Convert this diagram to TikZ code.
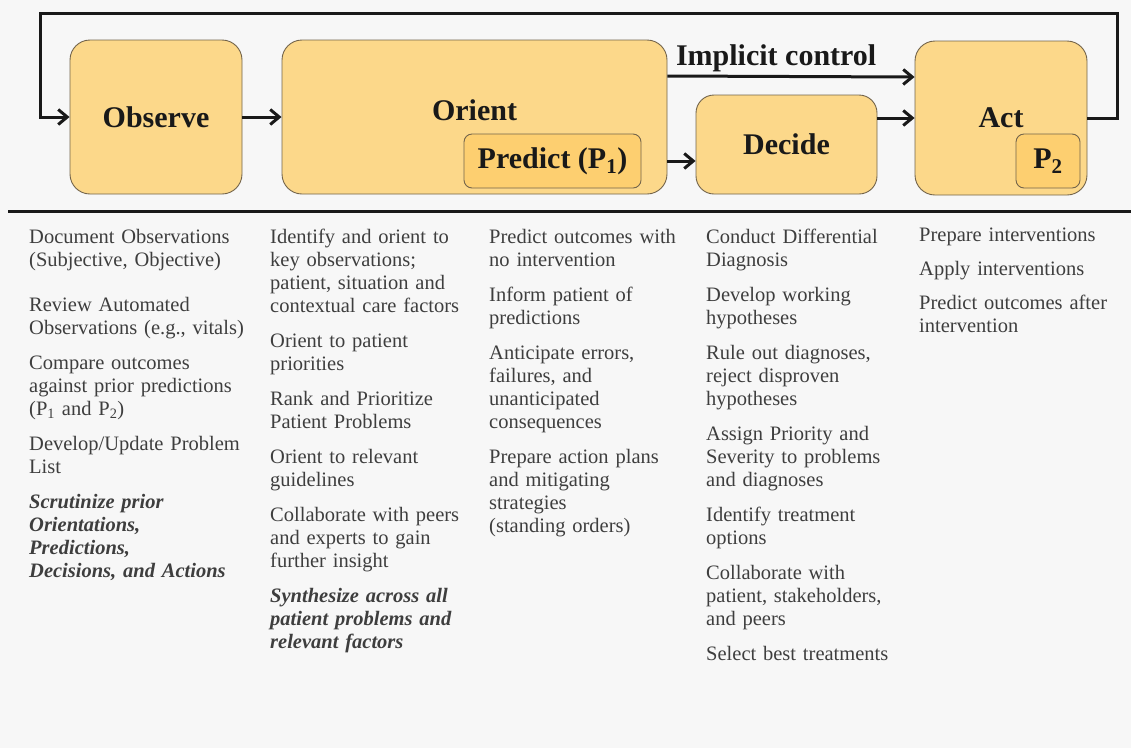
\documentclass[tikz,border=0pt]{standalone}
\usepackage{fontspec}
\setmainfont{Liberation Serif}
\usetikzlibrary{arrows.meta,positioning}

\definecolor{boxfill}{RGB}{252,216,138}
\definecolor{innerfill}{RGB}{253,207,112}
\definecolor{boxline}{RGB}{115,100,75}
\definecolor{bgcol}{RGB}{247,247,247}
\definecolor{listtext}{RGB}{62,62,62}
\definecolor{ink}{RGB}{25,25,25}

\tikzset{
  title/.style={font=\fontsize{30}{34}\selectfont\bfseries, text=ink},
  phase/.style={draw=boxline, fill=boxfill, line width=0.9pt, rounded corners=20pt, inner sep=0pt, title},
  subphase/.style={draw=boxline, fill=innerfill, line width=0.9pt, rounded corners=8pt, inner sep=0pt, title},
  flow/.style={draw=ink, line width=3pt, -{Straight Barb[length=9pt,width=15pt,line width=3pt]}},
  itemlist/.style={anchor=north west, inner sep=0pt, text width=240pt, align=left, text=listtext,
    font=\fontsize{20.5}{23}\selectfont},
}

\begin{document}
\begin{tikzpicture}[x=1pt,y=-1pt]
  \fill[bgcol] (0,0) rectangle (1131,748);
  \useasboundingbox (0,0) rectangle (1131,748);

  % the loop
  \node[phase, minimum width=172pt, minimum height=154pt] (observe) at (156,117) {Observe};
  \node[phase, minimum width=385pt, minimum height=154pt,
    label={[title, yshift=7pt]center:Orient}] (orient) at (474.5,117) {};
  \node[subphase, minimum width=177pt, minimum height=54pt] (predict) at (552.5,161) {Predict (P\textsubscript{1})};
  \node[phase, rounded corners=18pt, minimum width=181pt, minimum height=99pt] (decide) at (786.5,144.5) {Decide};
  \node[phase, minimum width=172pt, minimum height=154pt] (act) at (1001,118) {Act};
  \node[subphase, minimum width=64pt, minimum height=54pt] (ptwo) at (1048,161) {P\textsubscript{2}};

  \coordinate (loopR) at (1117,13);
  \coordinate (loopL) at (40,13);

  \draw[flow] (observe) -- (orient);
  \draw[flow] (orient.east |- predict) -- (decide.west |- predict);
  \draw[flow] (decide.east |- act) -- (act.west);
  \draw[flow] ([yshift=41pt]orient.east) -- node[title, pos=0.44, above=0pt] (ctrl) {Implicit control} ([yshift=41pt]act.west);
  \draw[flow] (act.east) -| (loopR) -- (loopL) |- (observe.west);

  \draw[ink, line width=3pt] (8,211) -- (1131,211);

  % what happens in each phase
  \node[itemlist] (obsList) at (29,229) {Document Observations\\(Subjective, Objective)\\[22pt]
    Review Automated\\Observations (e.g., vitals)\\[12pt]
    Compare outcomes\\against prior predictions\\(P\textsubscript{1} and P\textsubscript{2})\\[12pt]
    Develop/Update Problem\\List\\[12pt]
    {\bfseries\itshape Scrutinize prior\\Orientations,\\Predictions,\\Decisions, and Actions}};
  \node[itemlist] (oriList) at (270,229) {Identify and orient to\\key observations;\\patient, situation and\\contextual care factors\\[12pt]
    Orient to patient\\priorities\\[12pt]
    Rank and Prioritize\\Patient Problems\\[12pt]
    Orient to relevant\\guidelines\\[12pt]
    Collaborate with peers\\and experts to gain\\further insight\\[12pt]
    {\bfseries\itshape Synthesize across all\\patient problems and\\relevant factors}};
  \node[itemlist] (preList) at (489,229) {Predict outcomes with\\no intervention\\[12pt]
    Inform patient of\\predictions\\[12pt]
    Anticipate errors,\\failures, and\\unanticipated\\consequences\\[12pt]
    Prepare action plans\\and mitigating\\strategies\\(standing orders)};
  \node[itemlist] (decList) at (706,229) {Conduct Differential\\Diagnosis\\[12pt]
    Develop working\\hypotheses\\[12pt]
    Rule out diagnoses,\\reject disproven\\hypotheses\\[12pt]
    Assign Priority and\\Severity to problems\\and diagnoses\\[12pt]
    Identify treatment\\options\\[12pt]
    Collaborate with\\patient, stakeholders,\\and peers\\[12pt]
    Select best treatments};
  \node[itemlist] (actList) at (919,228) {Prepare interventions\\[11pt]
    Apply interventions\\[11pt]
    Predict outcomes after\\intervention};
\end{tikzpicture}
\end{document}
